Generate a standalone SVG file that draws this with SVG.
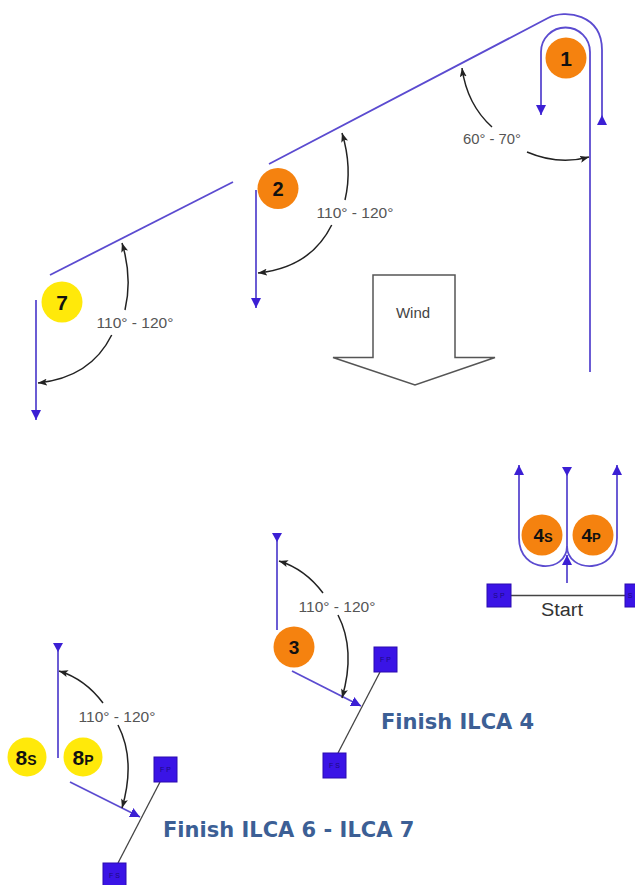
<svg xmlns="http://www.w3.org/2000/svg" width="635" height="885" viewBox="0 0 635 885">
<defs>
<style>
.course{fill:none;stroke:#5b4bd0;stroke-width:1.8}
.ang{fill:none;stroke:#222;stroke-width:1.5}
.lbl{font-family:"Liberation Sans",Arial,sans-serif;font-size:14px;fill:#555;text-anchor:middle}
.num{font-family:"Liberation Sans",Arial,sans-serif;font-weight:bold;fill:#111;text-anchor:middle}
.orange{fill:#f5820f}
.yellow{fill:#ffe90a}
.mark{fill:#3a14e6;stroke:#2a0ab0;stroke-width:1}
.mlbl{font-family:"Liberation Sans",Arial,sans-serif;font-size:7px;fill:#1c0a80;text-anchor:middle}
.tri{fill:#3b1fd4}
.fin{font-family:"DejaVu Sans",Verdana,sans-serif;font-weight:bold;font-size:21px;fill:#3c5f95}
.gline{stroke:#444;stroke-width:1.3;fill:none}
</style>
<marker id="ab" viewBox="0 0 10 10" refX="10" refY="5" markerWidth="10" markerHeight="10" markerUnits="userSpaceOnUse" orient="auto">
<path d="M0,0 L10,5 L0,10 z" fill="#3b1fd4"/>
</marker>
<marker id="ak" viewBox="0 0 9 7" refX="9" refY="3.5" markerWidth="9" markerHeight="7" markerUnits="userSpaceOnUse" orient="auto">
<path d="M0,0 L9,3.5 L0,7 L2,3.5 z" fill="#222"/>
</marker>
</defs>
<rect width="635" height="885" fill="#fff"/>

<g id="connectors">
<path class="course" d="M50,275 L233,182"/>
<path class="course" d="M269,164 L548,18 C565,9 602,14 602,50 L602,124"/>
<polygon class="tri" points="597,125 607,125 602,115"/>
<path class="course" d="M590,372 L590,52 A24.5,24.5 0 0 0 541,52 L541,115" marker-end="url(#ab)"/>
<path class="course" d="M256,190 L256,308" marker-end="url(#ab)"/>
<path class="course" d="M36,300 L36,420" marker-end="url(#ab)"/>
<path class="course" d="M567,546 C567,574 519,574 519,538 L519,465" marker-end="url(#ab)"/>
<path class="course" d="M567,546 C567,574 617,574 617,538 L617,465" marker-end="url(#ab)"/>
<path class="course" d="M567,470 L567,546"/>
<polygon class="tri" points="562,467 572,467 567,476"/>
<path class="course" d="M567,583 L567,555" marker-end="url(#ab)"/>
<path class="course" d="M277,537 L277,630"/>
<polygon class="tri" points="272,533 282,533 277,542"/>
<path class="course" d="M292,671 L361,706" marker-end="url(#ab)"/>
<path class="course" d="M58,647 L58,758"/>
<polygon class="tri" points="53,643 63,643 58,652"/>
<path class="course" d="M70,782 L140,817" marker-end="url(#ab)"/>
<path class="gline" d="M511,595.5 L625,595.5"/>
<path class="gline" d="M380,672 L338,753"/>
<path class="gline" d="M160,782 L118,863"/>
<path class="ang" d="M492,127 Q467,104.5 462,68" marker-end="url(#ak)"/>
<path class="ang" d="M527,152 Q558.5,165.5 589,157" marker-end="url(#ak)"/>
<path class="ang" d="M345,200 Q352.6,167.5 342,133" marker-end="url(#ak)"/>
<path class="ang" d="M331.7,225 Q310.7,267.5 258,273" marker-end="url(#ak)"/>
<path class="ang" d="M125,310 Q132.6,277.5 122,243" marker-end="url(#ak)"/>
<path class="ang" d="M111.7,335 Q90.7,377.5 38,383" marker-end="url(#ak)"/>
<path class="ang" d="M323,593 Q305,569 279,561" marker-end="url(#ak)"/>
<path class="ang" d="M338,615 Q356,650 342,698" marker-end="url(#ak)"/>
<path class="ang" d="M103,703 Q85,679 59,671" marker-end="url(#ak)"/>
<path class="ang" d="M118,725 Q136,760 122,808" marker-end="url(#ak)"/>
</g>

<g id="angle-labels">
<text class="lbl" x="492" y="143.5" textLength="58" lengthAdjust="spacingAndGlyphs">60° - 70°</text>
<text class="lbl" x="355" y="218" textLength="77" lengthAdjust="spacingAndGlyphs">110° - 120°</text>
<text class="lbl" x="135" y="328" textLength="77" lengthAdjust="spacingAndGlyphs">110° - 120°</text>
<text class="lbl" x="337" y="612" textLength="77" lengthAdjust="spacingAndGlyphs">110° - 120°</text>
<text class="lbl" x="117" y="722" textLength="77" lengthAdjust="spacingAndGlyphs">110° - 120°</text>
</g>

<g id="wind">
<path d="M373,275 L455,275 L455,357.5 L495,357.5 L415,385 L333,357.5 L373,357.5 Z" fill="#fff" stroke="#555" stroke-width="1.5"/>
<text x="413" y="317.5" font-family="Liberation Sans, Arial, sans-serif" font-size="15" fill="#444" text-anchor="middle">Wind</text>
</g>

<g id="mark-1"><circle class="orange" cx="566" cy="58" r="20.5"/><text class="num" x="566" y="65.5" font-size="21">1</text></g>
<g id="mark-2"><circle class="orange" cx="278" cy="188.5" r="20.5"/><text class="num" x="278" y="195.5" font-size="20">2</text></g>
<g id="mark-7"><circle class="yellow" cx="62" cy="302" r="20.5"/><text class="num" x="62" y="309.5" font-size="21">7</text></g>
<g id="mark-3"><circle class="orange" cx="294" cy="647" r="20.5"/><text class="num" x="294" y="653.5" font-size="19">3</text></g>
<g id="mark-4s"><circle class="orange" cx="542" cy="535" r="20.5"/><text class="num" x="543" y="542" font-size="19">4<tspan font-size="13">S</tspan></text></g>
<g id="mark-4p"><circle class="orange" cx="593" cy="535" r="20.5"/><text class="num" x="591" y="542" font-size="19">4<tspan font-size="13">P</tspan></text></g>
<g id="mark-8s"><circle class="yellow" cx="27" cy="757" r="19.5"/><text class="num" x="26" y="764.5" font-size="21">8<tspan font-size="14">S</tspan></text></g>
<g id="mark-8p"><circle class="yellow" cx="83" cy="757" r="19.5"/><text class="num" x="83" y="764.5" font-size="21">8<tspan font-size="14">P</tspan></text></g>

<g id="start-line">
<rect class="mark" x="487" y="584" width="24" height="23"/>
<text class="mlbl" x="499" y="598">S P</text>
<rect class="mark" x="625" y="584" width="24" height="23"/>
<text class="mlbl" x="630" y="598">S</text>
<text x="562" y="616" font-family="Liberation Sans, Arial, sans-serif" font-size="18" fill="#333" text-anchor="middle" textLength="42" lengthAdjust="spacingAndGlyphs">Start</text>
</g>

<g id="finish-ilca4">
<rect class="mark" x="374" y="647" width="23" height="25"/>
<text class="mlbl" x="385.5" y="662">F P</text>
<rect class="mark" x="323" y="753" width="23" height="25"/>
<text class="mlbl" x="334.5" y="768">F S</text>
<text class="fin" x="381" y="729">Finish ILCA 4</text>
</g>

<g id="finish-ilca67">
<rect class="mark" x="154" y="757" width="23" height="25"/>
<text class="mlbl" x="165.5" y="772">F P</text>
<rect class="mark" x="103" y="863" width="23" height="25"/>
<text class="mlbl" x="114.5" y="878">F S</text>
<text class="fin" x="163" y="837">Finish ILCA 6 - ILCA 7</text>
</g>
</svg>
